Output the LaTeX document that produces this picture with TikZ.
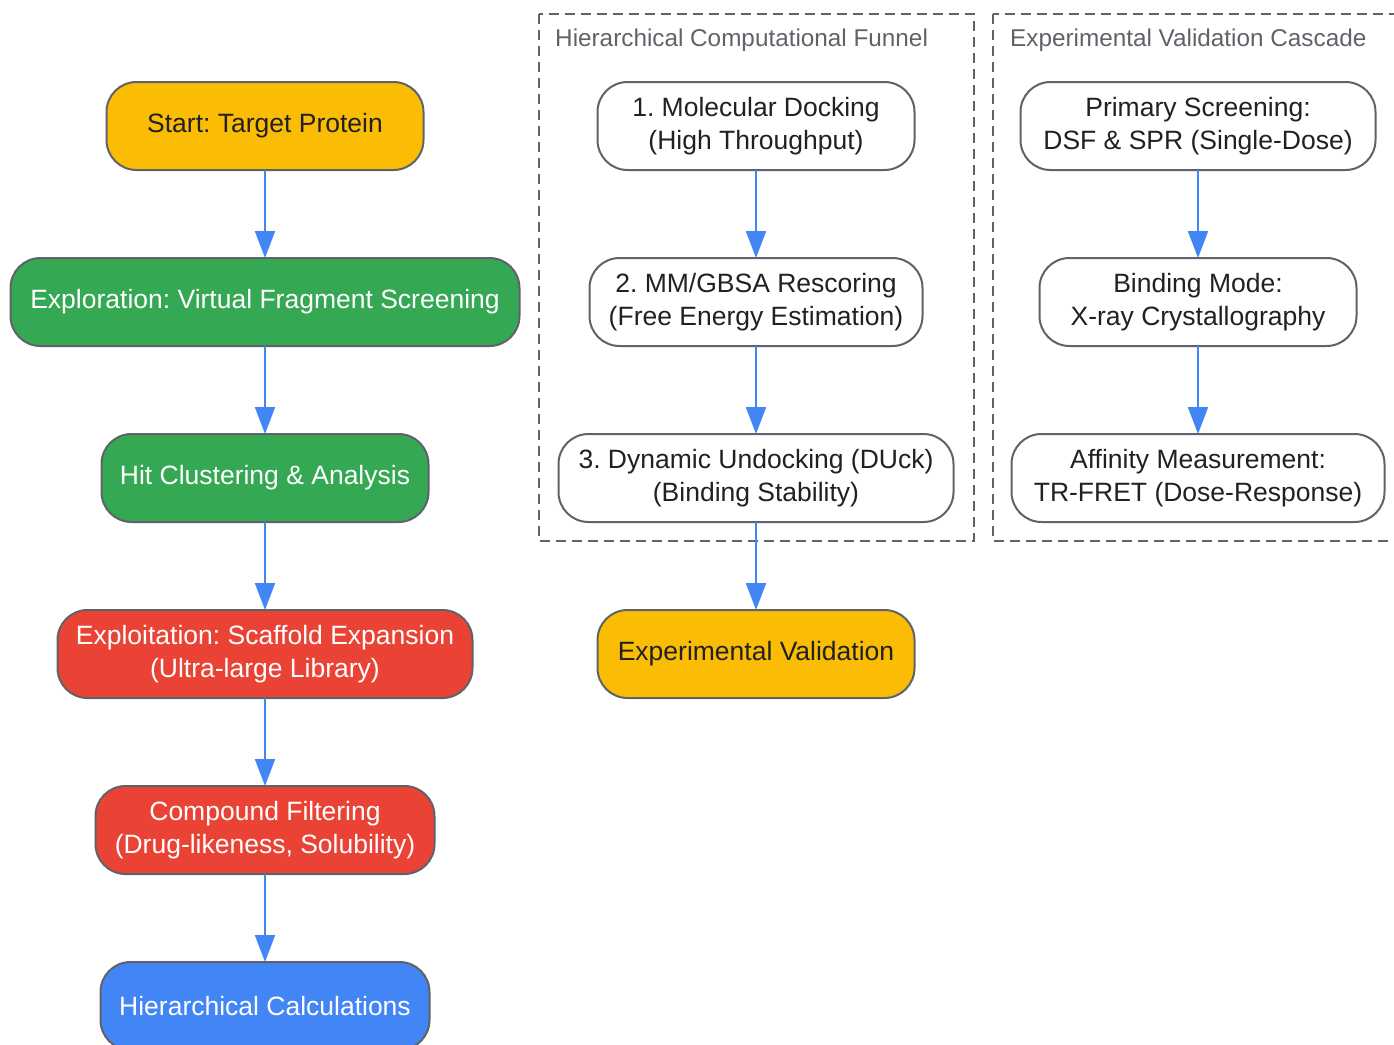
\documentclass[tikz,border=0pt]{standalone}
\usepackage{fontspec}
\setmainfont{Liberation Sans}
\usetikzlibrary{arrows.meta, positioning}
\definecolor{gyellow}{HTML}{FBBC04}
\definecolor{ggreen}{HTML}{34A853}
\definecolor{gred}{HTML}{EA4335}
\definecolor{gblue}{HTML}{4285F4}
\definecolor{edgegray}{HTML}{5F6368}
\definecolor{darktext}{HTML}{202124}
\tikzset{
  stage/.style={rectangle, rounded corners=30pt, minimum height=88pt, inner xsep=6pt, inner ysep=4pt, outer sep=0pt, align=center, draw=edgegray, line width=2pt, font=\fontsize{26.5}{33}\selectfont},
  startend/.style={stage, fill=gyellow, text=darktext},
  explore/.style={stage, fill=ggreen, text=white},
  exploit/.style={stage, fill=gred, text=white},
  calcstep/.style={stage, fill=gblue, text=white},
  plainstep/.style={stage, fill=white, text=darktext},
  groupbox/.style={draw=edgegray, line width=2.2pt, dash pattern=on 10pt off 6pt},
  grouptitle/.style={anchor=west, text=edgegray, inner sep=0pt, font=\fontsize{24.3}{29}\selectfont},
  arrow/.style={draw=gblue, line width=2pt, -{Triangle[length=27pt,width=20pt]}}
}

\begin{document}
\frenchspacing
\begin{tikzpicture}[x=1pt, y=-1pt, node distance=88pt]
    \useasboundingbox (0,0) rectangle (1394,1044);

    % group frames
    \draw[groupbox] (539,14) rectangle (974,541);
    \draw[groupbox] (993,14) rectangle (1405,541);
    \node (funneltitle) [grouptitle] at (555,40) {Hierarchical Computational Funnel};
    \node (cascadetitle) [grouptitle] at (1010,40) {Experimental Validation Cascade};

    % main pipeline
    \node (start) [startend, minimum width=317pt] at (265,126) {Start: Target Protein};
    \node (screen) [explore, minimum width=509pt, below=of start] {Exploration: Virtual Fragment Screening};
    \node (hits) [explore, minimum width=327pt, below=of screen] {Hit Clustering \& Analysis};
    \node (expand) [exploit, minimum width=415pt, below=of hits] {Exploitation: Scaffold Expansion\\(Ultra-large Library)};
    \node (filter) [exploit, minimum width=339pt, below=of expand] {Compound Filtering\\(Drug-likeness, Solubility)};
    \node (hier) [calcstep, minimum width=329pt, below=of filter] {Hierarchical Calculations};

    % computational funnel
    \node (dock) [plainstep, minimum width=317pt] at (756,126) {1. Molecular Docking\\(High Throughput)};
    \node (mmgbsa) [plainstep, minimum width=333pt, below=of dock] {2. MM/GBSA Rescoring\\(Free Energy Estimation)};
    \node (duck) [plainstep, minimum width=395pt, below=of mmgbsa] {3. Dynamic Undocking (DUck)\\(Binding Stability)};
    \node (expval) [startend, minimum width=317pt, below=of duck] {Experimental Validation};

    % validation cascade
    \node (primary) [plainstep, minimum width=355pt] at (1198,126) {Primary Screening:\\DSF \& SPR (Single-Dose)};
    \node (xray) [plainstep, minimum width=317pt, below=of primary] {Binding Mode:\\X-ray Crystallography};
    \node (affinity) [plainstep, minimum width=373pt, below=of xray] {Affinity Measurement:\\TR-FRET (Dose-Response)};

    % arrows
    \draw[arrow] (start) -- (screen);
    \draw[arrow] (screen) -- (hits);
    \draw[arrow] (hits) -- (expand);
    \draw[arrow] (expand) -- (filter);
    \draw[arrow] (filter) -- (hier);
    \draw[arrow] (dock) -- (mmgbsa);
    \draw[arrow] (mmgbsa) -- (duck);
    \draw[arrow] (duck) -- (expval);
    \draw[arrow] (primary) -- (xray);
    \draw[arrow] (xray) -- (affinity);
\end{tikzpicture}
\end{document}
